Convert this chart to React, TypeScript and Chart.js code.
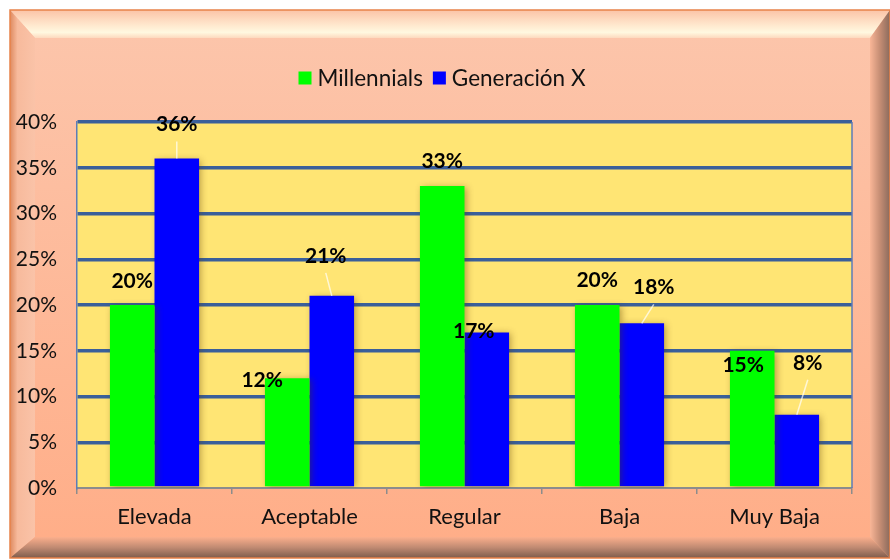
import React, { useEffect, useRef } from "react";
import { Chart, registerables } from "chart.js";

Chart.register(...registerables);

// ---- data ----
const categories = ["Elevada", "Aceptable", "Regular", "Baja", "Muy Baja"];
const seriesNames = ["Millennials", "Generación X"];
const millennials = [20, 12, 33, 20, 15];
const generacionX = [36, 21, 17, 18, 8];
const yMax = 40;
const yStep = 5;

// ---- styling ----
const FONT = "Lato, 'Noto Sans', sans-serif";
const seriesColors = ["#00FF00", "#0000FF"];
// data label offsets (px) from each bar's top centre
const labelOffsets = [
  [[0, -24], [-25, 2], [0, -25], [0, -25], [-9, 14]],
  [[0, -34], [-6, -40], [-13, -1], [12, -36], [11, -52]],
];

const framePlugin = {
  id: "frame",
  beforeDraw(chart: any) {
    const { ctx, chartArea } = chart;
    const L = 10, T = 10, R = 890, B = 558;
    const bw = 25, bt = 28, br = 20, bb = 21;
    ctx.save();
    ctx.fillStyle = "#ffffff";
    ctx.fillRect(0, 0, chart.width, chart.height);
    // face
    let g = ctx.createLinearGradient(0, T, 0, B);
    g.addColorStop(0, "#FCC6AC");
    g.addColorStop(1, "#FFAD87");
    ctx.fillStyle = g;
    ctx.fillRect(L, T, R - L, B - T);
    // top bevel
    g = ctx.createLinearGradient(0, T, 0, T + bt);
    g.addColorStop(0, "#FBC3A7");
    g.addColorStop(0.55, "#FFE9CF");
    g.addColorStop(0.8, "#FFF8E0");
    g.addColorStop(1, "#FDD9BE");
    ctx.fillStyle = g;
    ctx.beginPath();
    ctx.moveTo(L, T); ctx.lineTo(R, T); ctx.lineTo(R - br, T + bt); ctx.lineTo(L + bw, T + bt); ctx.closePath();
    ctx.fill();
    // left bevel
    g = ctx.createLinearGradient(L, 0, L + bw, 0);
    g.addColorStop(0, "#DE8A60");
    g.addColorStop(0.3, "#F7BA9C");
    g.addColorStop(1, "#FAC3A8");
    ctx.fillStyle = g;
    ctx.beginPath();
    ctx.moveTo(L, T); ctx.lineTo(L + bw, T + bt); ctx.lineTo(L + bw, B - bb); ctx.lineTo(L, B); ctx.closePath();
    ctx.fill();
    // right bevel
    g = ctx.createLinearGradient(R - br, 0, R, 0);
    g.addColorStop(0, "#F9B697");
    g.addColorStop(0.5, "#C58D74");
    g.addColorStop(1, "#8A6A5C");
    ctx.fillStyle = g;
    ctx.beginPath();
    ctx.moveTo(R, T); ctx.lineTo(R, B); ctx.lineTo(R - br, B - bb); ctx.lineTo(R - br, T + bt); ctx.closePath();
    ctx.fill();
    // bottom bevel
    g = ctx.createLinearGradient(0, B - bb, 0, B);
    g.addColorStop(0, "#FBAF8C");
    g.addColorStop(0.5, "#C08A72");
    g.addColorStop(1, "#7E5C4C");
    ctx.fillStyle = g;
    ctx.beginPath();
    ctx.moveTo(L, B); ctx.lineTo(L + bw, B - bb); ctx.lineTo(R - br, B - bb); ctx.lineTo(R, B); ctx.closePath();
    ctx.fill();
    // outline
    ctx.strokeStyle = "#E8824A";
    ctx.lineWidth = 1.5;
    ctx.strokeRect(L, T, R - L, B - T);
    // plot area
    ctx.fillStyle = "#FFE574";
    ctx.fillRect(chartArea.left, chartArea.top, chartArea.right - chartArea.left, chartArea.bottom - chartArea.top);
    ctx.restore();
  },
  afterDraw(chart: any) {
    const { ctx, chartArea } = chart;
    ctx.save();
    // right border of plot
    ctx.strokeStyle = "#5B7DB8";
    ctx.lineWidth = 1.5;
    ctx.beginPath();
    ctx.moveTo(chartArea.right, chartArea.top);
    ctx.lineTo(chartArea.right, chartArea.bottom);
    ctx.stroke();
    // legend
    ctx.font = `22.5px ${FONT}`;
    ctx.textBaseline = "middle";
    const box = 13, gap = 6, itemGap = 10;
    const widths = seriesNames.map((n) => ctx.measureText(n).width);
    const total = widths.reduce((a, w) => a + box + gap + w, 0) + itemGap;
    let x = 442 - total / 2;
    const y = 78;
    seriesNames.forEach((n, i) => {
      ctx.fillStyle = seriesColors[i];
      ctx.fillRect(x, y - box / 2, box, box);
      x += box + gap;
      ctx.fillStyle = "#111";
      ctx.fillText(n, x, y + 1);
      x += widths[i] + itemGap;
    });
    ctx.restore();
  },
};

const shadowPlugin = {
  id: "barShadow",
  beforeDatasetsDraw(chart: any) {
    const ctx = chart.ctx;
    ctx.save();
    ctx.shadowColor = "rgba(90,60,0,0.45)";
    ctx.shadowBlur = 7;
    ctx.shadowOffsetX = 2;
    ctx.shadowOffsetY = 1;
  },
  afterDatasetsDraw(chart: any) {
    const ctx = chart.ctx;
    ctx.restore();
    // data labels
    ctx.save();
    ctx.font = `bold 21px ${FONT}`;
    ctx.textAlign = "center";
    ctx.textBaseline = "middle";
    chart.data.datasets.forEach((ds: any, di: number) => {
      const meta = chart.getDatasetMeta(di);
      meta.data.forEach((bar: any, i: number) => {
        const [dx, dy] = labelOffsets[di][i];
        const lx = bar.x + dx;
        const ly = bar.y + dy;
        if (dy < -30) {
          ctx.strokeStyle = "rgba(255,255,255,0.7)";
          ctx.lineWidth = 1.5;
          ctx.beginPath();
          ctx.moveTo(lx, ly + 17);
          ctx.lineTo(bar.x, bar.y);
          ctx.stroke();
        }
        ctx.fillStyle = "#000";
        ctx.fillText(`${ds.data[i]}%`, lx, ly);
      });
    });
    ctx.restore();
  },
};

export default function App() {
  const ref = useRef<HTMLCanvasElement | null>(null);
  useEffect(() => {
    if (!ref.current) return;
    const chart = new Chart(ref.current, {
      type: "bar",
      data: {
        labels: categories,
        datasets: [
          { label: seriesNames[0], data: millennials, backgroundColor: seriesColors[0], borderWidth: 0 },
          { label: seriesNames[1], data: generacionX, backgroundColor: seriesColors[1], borderWidth: 0 },
        ],
      },
      options: {
        responsive: false,
        animation: false,
        events: [],
        datasets: { bar: { categoryPercentage: 0.575, barPercentage: 1 } },
        layout: { padding: { top: 122, left: 0, right: 38, bottom: 0 } },
        plugins: { legend: { display: false }, tooltip: { enabled: false }, title: { display: false } },
        scales: {
          x: {
            afterFit: (s: any) => { s.height = 72; },
            grid: { offset: true, drawOnChartArea: false, drawTicks: true, tickLength: 6, color: "#8C8C8C", lineWidth: 1.5 },
            border: { display: true, color: "#8C8C8C", width: 2 },
            ticks: { color: "#111", font: { family: FONT, size: 22 }, padding: 10 },
          },
          y: {
            min: 0,
            max: yMax,
            afterFit: (s: any) => { s.width = 77; },
            ticks: { stepSize: yStep, color: "#111", font: { family: FONT, size: 21 }, padding: 20, callback: (v: any) => `${v}%` },
            grid: { color: (c: any) => (c.tick && c.tick.value === 0 ? "rgba(0,0,0,0)" : "#3A5F9A"), lineWidth: 3.5, drawTicks: false },
            border: { display: true, color: "#5B7DB8", width: 1.5 },
          },
        },
      },
      plugins: [framePlugin, shadowPlugin],
    });
    return () => chart.destroy();
  }, []);
  return (
    <div style={{ position: "fixed", left: 0, top: 0, width: 890, height: 560 }}>
      <canvas ref={ref} width={890} height={560} style={{ width: 890, height: 560 }} />
    </div>
  );
}
